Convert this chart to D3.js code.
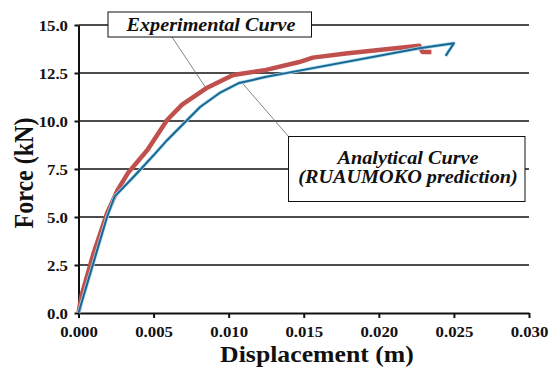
<!DOCTYPE html>
<html>
<head>
<meta charset="utf-8">
<script src="https://cdn.jsdelivr.net/npm/d3@7"></script>
<style>
  body { margin: 0; background: #fff; }
  svg { display: block; }
</style>
</head>
<body>
<div id="chart"></div>
<script>
// Force-displacement chart

const WIDTH = 552
const HEIGHT = 367
const MARGIN = { top: 25, right: 23, bottom: 54, left: 78.5 }
const FONT = "Liberation Serif"
const STRETCH = 1.12 // the original picture is a little wide
const NOTE_STRETCH = 1.065

// data
const dispTicks = [0, 0.005, 0.010, 0.015, 0.020, 0.025, 0.030]
const forceTicks = [0, 2.5, 5.0, 7.5, 10.0, 12.5, 15.0]

const expDisp = [0, 0.0002, 0.0010, 0.0019, 0.0026, 0.0033, 0.0046, 0.0059, 0.0069, 0.0085, 0.0103, 0.0125, 0.0147, 0.0156, 0.0178, 0.0200, 0.0227, 0.0229, 0.0235]
const expForce = [0, 0.9, 3.1, 5.2, 6.4, 7.3, 8.5, 10.05, 10.85, 11.7, 12.4, 12.66, 13.07, 13.3, 13.52, 13.70, 13.92, 13.6, 13.6]

const anaDisp = [0, 0.0019, 0.0024, 0.0038, 0.0051, 0.0059, 0.0081, 0.0094, 0.0107, 0.0125, 0.0140, 0.0227, 0.0250, 0.02445]
const anaForce = [0, 5.0, 6.06, 7.2, 8.3, 9.0, 10.73, 11.46, 11.98, 12.3, 12.52, 13.79, 14.05, 13.39]

const expLabel = "Experimental Curve"
const anaLabel = ["Analytical Curve", "(RUAUMOKO prediction)"]
// where the leader lines touch the curves
const expPointer = { disp: 0.0085, force: 11.7 }
const anaPointer = { disp: 0.0109, force: 11.98 }

const expData = expDisp.map((d, i) => ({ disp: d, force: expForce[i] }))
const anaData = anaDisp.map((d, i) => ({ disp: d, force: anaForce[i] }))

const svg = d3.select("#chart")
  .append("svg")
  .attr("width", WIDTH)
  .attr("height", HEIGHT)

const x = d3.scaleLinear()
  .domain([0, 0.03])
  .range([MARGIN.left, WIDTH - MARGIN.right])

const y = d3.scaleLinear()
  .domain([0, 15])
  .range([HEIGHT - MARGIN.bottom, MARGIN.top])

function styleText(sel, size, italic) {
  sel.attr("font-family", FONT)
    .attr("font-weight", "bold")
    .attr("font-style", italic ? "italic" : "normal")
    .attr("font-size", size)
    .attr("fill", "#111")
}

function label(parent, text, px, py, size, italic, sx) {
  return parent.append("text")
    .call(styleText, size, italic)
    .attr("text-anchor", "middle")
    .attr("transform", `translate(${px},${py}) scale(${sx},1)`)
    .text(text)
}

// Grid
svg.append("g")
  .attr("class", "grid")
  .selectAll("line")
  .data(forceTicks.filter(t => t > 0))
  .join("line")
  .attr("x1", x(0))
  .attr("x2", x(0.03))
  .attr("y1", d => y(d))
  .attr("y2", d => y(d))
  .attr("stroke", "#111")
  .attr("stroke-width", 1.6)

// Axes
const yAxis = d3.axisLeft(y)
  .tickValues(forceTicks)
  .tickFormat(d3.format(".1f"))
  .tickSize(4)
  .tickSizeOuter(0)

const xAxis = d3.axisBottom(x)
  .tickValues(dispTicks)
  .tickFormat(d3.format(".3f"))
  .tickSize(5)
  .tickSizeOuter(0)

const gy = svg.append("g")
  .attr("transform", `translate(${x(0)},0)`)
  .call(yAxis)
gy.selectAll("text")
  .attr("x", -10.5 / STRETCH)
  .attr("dy", "0.35em")
  .attr("transform", `scale(${STRETCH},1)`)

const gx = svg.append("g")
  .attr("transform", `translate(0,${y(0)})`)
  .call(xAxis)
gx.selectAll("text")
  .attr("y", 13)
  .attr("transform", `scale(${STRETCH},1)`)

svg.selectAll(".tick text").call(styleText, 15, false)

svg.selectAll(".domain, .tick line")
  .attr("stroke", "#111")
  .attr("stroke-width", 2)

svg.append("text")
  .call(styleText, 24, false)
  .attr("text-anchor", "middle")
  .attr("transform", `translate(33,${(y(0) + y(15)) / 2 + 4}) scale(${STRETCH},1) rotate(-90)`)
  .text("Force (kN)")

label(svg, "Displacement (m)", 317, 362, 23, false, STRETCH)

// Leader lines
svg.append("line")
  .attr("x1", 172).attr("y1", 37)
  .attr("x2", x(expPointer.disp)).attr("y2", y(expPointer.force))
  .attr("stroke", "#666").attr("stroke-width", 0.8)

svg.append("line")
  .attr("x1", 289).attr("y1", 137)
  .attr("x2", x(anaPointer.disp)).attr("y2", y(anaPointer.force))
  .attr("stroke", "#666").attr("stroke-width", 0.8)

// Curves
const line = d3.line()
  .x(d => x(d.disp))
  .y(d => y(d.force))

svg.append("path")
  .attr("d", line(expData))
  .attr("fill", "none")
  .attr("stroke", "#c0504d")
  .attr("stroke-width", 4.5)
  .attr("stroke-linejoin", "round")

svg.append("path")
  .attr("d", line(anaData))
  .attr("fill", "none")
  .attr("stroke", "#9fdcef")
  .attr("stroke-width", 3.4)
  .attr("stroke-linejoin", "round")

svg.append("path")
  .attr("d", line(anaData))
  .attr("fill", "none")
  .attr("stroke", "#1e6590")
  .attr("stroke-width", 2)
  .attr("stroke-linejoin", "round")

// Notes
const expBox = svg.append("g")
expBox.append("rect")
  .attr("x", 108).attr("y", 12)
  .attr("width", 203.5).attr("height", 25)
  .attr("fill", "#fff").attr("stroke", "#111").attr("stroke-width", 1)
label(expBox, expLabel, 211, 30.7, 19, true, NOTE_STRETCH)

const anaBox = svg.append("g")
anaBox.append("rect")
  .attr("x", 288.5).attr("y", 136.5)
  .attr("width", 236.5).attr("height", 65)
  .attr("fill", "#fff").attr("stroke", "#111").attr("stroke-width", 1)
anaLabel.forEach((t, i) => label(anaBox, t, 408, 164.3 + 19 * i, 19, true, NOTE_STRETCH))
</script>
</body>
</html>
